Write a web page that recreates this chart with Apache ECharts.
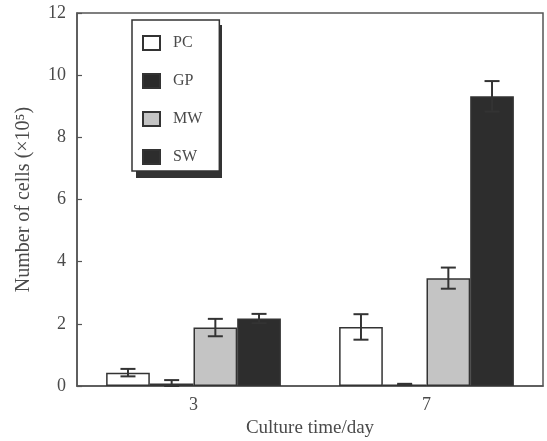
<!DOCTYPE html>
<html><head><meta charset="utf-8">
<script src="https://cdn.jsdelivr.net/npm/echarts@6/dist/echarts.min.js"></script>
<style>html,body{margin:0;padding:0;background:#fff}#c{width:547px;height:441px}</style>
</head><body><div id="c"></div>
<script>
const categories = ['3', '7'];
const seriesNames = ['PC', 'GP', 'MW', 'SW'];
const valPC = [0.43, 1.90];
const valGP = [0.08, 0.05];
const valMW = [1.88, 3.47];
const valSW = [2.17, 9.32];
const errPC = [0.12, 0.41];
const errGP = [0.11, 0.02];
const errMW = [0.28, 0.34];
const errSW = [0.15, 0.49];
const yTicks = [0, 2, 4, 6, 8, 10, 12];

const values = [valPC, valGP, valMW, valSW];
const errors = [errPC, errGP, errMW, errSW];
const fills = ['#ffffff', '#2a2a2a', '#c4c4c4', '#2d2d2d'];
const gapFrac = 0.25;
const font = '"Liberation Serif", "Times New Roman", serif';
const ink = '#4a4a4a';

const chart = echarts.init(document.getElementById('c'), null, {renderer: 'canvas'});

const barSeries = seriesNames.map((n, si) => ({
  name: n, type: 'bar', data: values[si],
  barGap: '0%', barCategoryGap: (gapFrac * 100) + '%',
  itemStyle: {color: fills[si], borderColor: '#333', borderWidth: 1.5},
  emphasis: {disabled: true}, z: 2
}));

const errSeries = seriesNames.map((n, si) => ({
  name: n + '_err', type: 'custom', z: 10,
  data: categories.map((c, i) => [i, values[si][i], errors[si][i]]),
  encode: {x: 0, y: 1},
  renderItem: function (params, api) {
    const xi = api.value(0), v = api.value(1), e = api.value(2);
    const catW = api.size([1, 0])[0];
    const barW = catW * (1 - gapFrac) / seriesNames.length;
    const base = api.coord([xi, v]);
    const cx = base[0] + (si - (seriesNames.length - 1) / 2) * barW;
    const yt = api.coord([xi, v + e])[1];
    const yb = api.coord([xi, Math.max(0, v - e)])[1];
    const cap = 7.5;
    const st = {stroke: '#333', lineWidth: 2};
    return {type: 'group', children: [
      {type: 'line', shape: {x1: cx, y1: yt, x2: cx, y2: yb}, style: st},
      {type: 'line', shape: {x1: cx - cap, y1: yt, x2: cx + cap, y2: yt}, style: st},
      {type: 'line', shape: {x1: cx - cap, y1: yb, x2: cx + cap, y2: yb}, style: st}
    ]};
  }
}));

chart.setOption({
  animation: false,
  backgroundColor: '#fff',
  textStyle: {fontFamily: font},
  grid: {left: 77, right: 4, top: 13, bottom: 55, outerBoundsMode: 'none', containLabel: false,
         show: true, borderColor: '#555', borderWidth: 1.5, backgroundColor: 'transparent'},
  graphic: [{type: 'rect', shape: {x: 136, y: 25, width: 86, height: 153}, style: {fill: '#333'}, z: 50}],
  legend: {
    data: seriesNames, orient: 'vertical', left: 132, top: 20,
    itemWidth: 17, itemHeight: 14, itemGap: 22,
    padding: [15, 17, 6, 10],
    backgroundColor: '#fff', borderColor: '#333', borderWidth: 1.5,
    textStyle: {fontFamily: font, fontSize: 16, color: ink, padding: [0, 0, 0, 8]},
    icon: 'rect', selectedMode: false, z: 60
  },
  xAxis: {
    type: 'category', data: categories,
    name: 'Culture time/day', nameLocation: 'middle', nameGap: 32,
    nameTextStyle: {fontFamily: font, fontSize: 19, color: ink},
    axisLine: {lineStyle: {color: '#555', width: 1.5}},
    axisTick: {inside: true, length: 5, lineStyle: {color: '#555', width: 1.2}},
    axisLabel: {fontFamily: font, fontSize: 18, color: ink, margin: 10}
  },
  yAxis: {
    type: 'value', min: yTicks[0], max: yTicks[yTicks.length - 1], interval: yTicks[1] - yTicks[0],
    name: 'Number of cells (×10⁵)', nameLocation: 'middle', nameGap: 43,
    nameTextStyle: {fontFamily: font, fontSize: 20, color: ink},
    axisLine: {show: true, lineStyle: {color: '#555', width: 1.5}},
    axisTick: {show: true, inside: true, length: 5, lineStyle: {color: '#555', width: 1.2}},
    axisLabel: {fontFamily: font, fontSize: 18, color: ink, margin: 11},
    splitLine: {show: false}
  },
  series: barSeries.concat(errSeries)
});
</script></body></html>
